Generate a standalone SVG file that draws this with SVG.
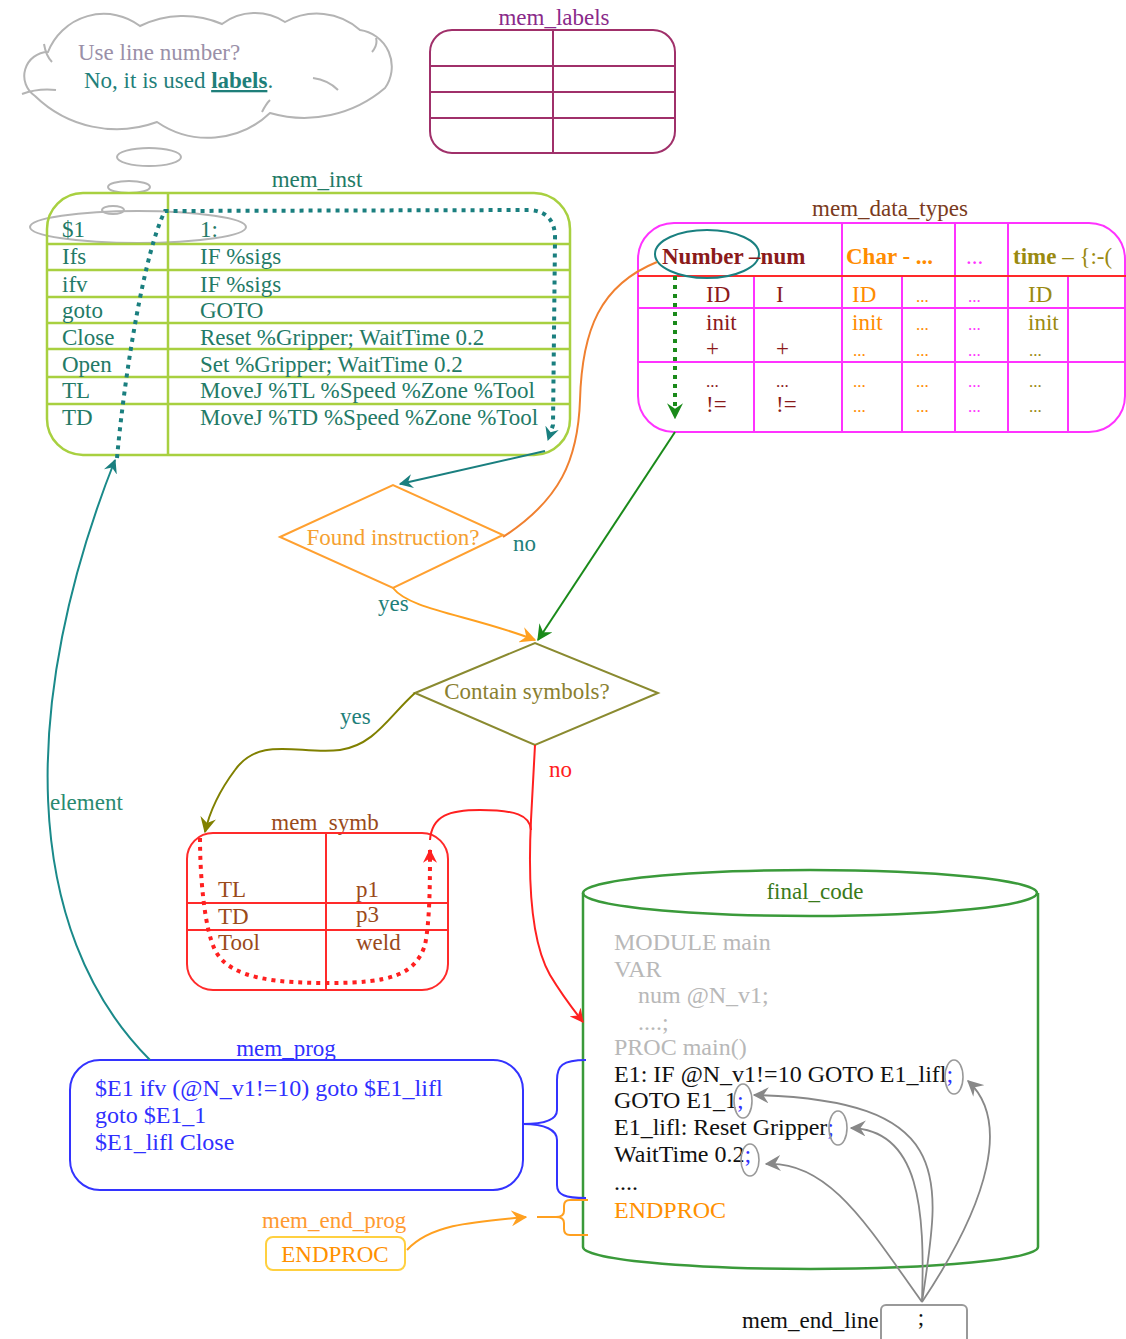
<svg xmlns="http://www.w3.org/2000/svg" width="1126" height="1339" viewBox="0 0 1126 1339">
<defs>
<style>
text{font-family:"Liberation Serif","Times New Roman",serif;font-size:23px}
.ln{fill:none;stroke-width:2}
.teal{fill:#1f7f7a}
.inst{fill:#237a66}
.dr{fill:#8b1a1a}
.or{fill:#ff8c00}
.mg{fill:#ff33ff}
.ol{fill:#9a8a10}
.dots{font-size:17px}
.gray{fill:#b8b8b8}
.br{fill:#9a4a1a}
.fc text,text.fc{font-size:24px}
</style>
<marker id="aTeal" viewBox="0 0 12 12" refX="11" refY="6" markerWidth="14" markerHeight="14" markerUnits="userSpaceOnUse" orient="auto"><path d="M0,0 L12,6 L0,12 L4,6 Z" fill="#1a7f7f"/></marker>
<marker id="aOr" viewBox="0 0 12 12" refX="11" refY="6" markerWidth="16" markerHeight="16" markerUnits="userSpaceOnUse" orient="auto"><path d="M0,0 L12,6 L0,12 L4,6 Z" fill="#ffa020"/></marker>
<marker id="aGr" viewBox="0 0 12 12" refX="11" refY="6" markerWidth="16" markerHeight="16" markerUnits="userSpaceOnUse" orient="auto"><path d="M0,0 L12,6 L0,12 L4,6 Z" fill="#1a8a1a"/></marker>
<marker id="aOl" viewBox="0 0 12 12" refX="11" refY="6" markerWidth="16" markerHeight="16" markerUnits="userSpaceOnUse" orient="auto"><path d="M0,0 L12,6 L0,12 L4,6 Z" fill="#808000"/></marker>
<marker id="aRd" viewBox="0 0 12 12" refX="11" refY="6" markerWidth="14" markerHeight="14" markerUnits="userSpaceOnUse" orient="auto"><path d="M0,0 L12,6 L0,12 L4,6 Z" fill="#ff2020"/></marker>
<marker id="aGy" viewBox="0 0 12 12" refX="11" refY="6" markerWidth="16" markerHeight="16" markerUnits="userSpaceOnUse" orient="auto"><path d="M0,0 L12,6 L0,12 L4,6 Z" fill="#888"/></marker>
</defs>
<rect width="1126" height="1339" fill="#fff"/>

<g id="cloud">
<path class="ln" stroke="#b4b4b4" d="M48,52 A60 60 0 0 1 140,26 A98 98 0 0 1 222,24 A55 55 0 0 1 285,22 A65 65 0 0 1 360,30 A37 37 0 0 1 385,88 A124 124 0 0 1 270,113 A90 90 0 0 1 157,122 A117 117 0 0 1 35,96 A24 24 0 0 1 48,52 Z"/>
<path class="ln" stroke="#b4b4b4" d="M44,44 Q46,56 52,62 M313,78 Q328,80 338,90 M22,94 Q38,88 56,90 M372,52 Q378,45 376,38 M262,112 Q266,104 270,100"/>
<ellipse cx="149" cy="157" rx="32" ry="9" class="ln" stroke="#b4b4b4"/>
<ellipse cx="129" cy="187" rx="21" ry="6" class="ln" stroke="#b4b4b4"/>
<ellipse cx="113" cy="210" rx="11" ry="4" class="ln" stroke="#b4b4b4"/>
<ellipse cx="138" cy="227" rx="108" ry="16" class="ln" stroke="#b4b4b4"/>
<text x="78" y="60" fill="#9a90a8">Use line number?</text>
<text x="84" y="88" class="teal">No, it is used <tspan font-weight="bold" text-decoration="underline">labels</tspan>.</text>
</g>

<g id="mem_labels">
<text x="554" y="25" text-anchor="middle" fill="#8a2a8a">mem_labels</text>
<rect x="430" y="30" width="245" height="123" rx="22" class="ln" stroke="#a0306a"/>
<path class="ln" stroke="#a0306a" d="M553,30 V153 M430,66 H675 M430,92 H675 M430,118 H675"/>
</g>

<g id="mem_inst">
<text x="317" y="187" text-anchor="middle" class="inst">mem_inst</text>
<rect x="47" y="193" width="523" height="262" rx="36" fill="none" stroke="#a8d040" stroke-width="2.5"/>
<path fill="none" stroke="#a8d040" stroke-width="2.5" d="M168,193 V455 M47,244 H570 M47,270 H570 M47,297 H570 M47,323 H570 M47,349 H570 M47,377 H570 M47,404 H570"/>
<g class="inst">
<text x="62" y="237">$1</text><text x="200" y="237">1:</text>
<text x="62" y="264">Ifs</text><text x="200" y="264">IF %sigs</text>
<text x="62" y="292">ifv</text><text x="200" y="292">IF %sigs</text>
<text x="62" y="318">goto</text><text x="200" y="318">GOTO</text>
<text x="62" y="345">Close</text><text x="200" y="345">Reset %Gripper; WaitTime 0.2</text>
<text x="62" y="372">Open</text><text x="200" y="372">Set %Gripper; WaitTime 0.2</text>
<text x="62" y="398">TL</text><text x="200" y="398">MoveJ %TL %Speed %Zone %Tool</text>
<text x="62" y="425">TD</text><text x="200" y="425">MoveJ %TD %Speed %Zone %Tool</text>
</g>
</g>

<g id="mem_data_types">
<text x="890" y="216" text-anchor="middle" fill="#7a3a20">mem_data_types</text>
<rect x="638" y="223" width="487" height="209" rx="36" fill="none" stroke="#ff33ff" stroke-width="2"/>
<path fill="none" stroke="#ff33ff" stroke-width="2" d="M842,223 V432 M955,223 V432 M1008,223 V432 M754,276 V432 M902,276 V432 M1068,276 V432 M638,308 H1126 M638,362 H1126"/>
<path d="M638,276 H1126" stroke="#ff2a2a" stroke-width="2"/>
<ellipse cx="707" cy="254" rx="52" ry="24" fill="none" stroke="#1a8080" stroke-width="2"/>
<text x="662" y="264" font-weight="bold" class="dr">Number –num</text>
<text x="846" y="264" font-weight="bold" class="or">Char - ...</text>
<text x="966" y="264" class="mg">...</text>
<text x="1013" y="264" class="ol"><tspan font-weight="bold">time</tspan> – {:-(</text>
<g class="dr"><text x="706" y="302">ID</text><text x="776" y="302">I</text><text x="706" y="330">init</text><text x="706" y="356">+</text><text x="776" y="356">+</text><text x="706" y="387" class="dots">...</text><text x="776" y="387" class="dots">...</text><text x="706" y="412">!=</text><text x="776" y="412">!=</text></g>
<g class="or"><text x="852" y="302">ID</text><text x="852" y="330">init</text><text x="853" y="356" class="dots">...</text><text x="853" y="387" class="dots">...</text><text x="853" y="412" class="dots">...</text><text x="916" y="302" class="dots">...</text><text x="916" y="330" class="dots">...</text><text x="916" y="356" class="dots">...</text><text x="916" y="387" class="dots">...</text><text x="916" y="412" class="dots">...</text></g>
<g class="mg"><text x="968" y="302" class="dots">...</text><text x="968" y="330" class="dots">...</text><text x="968" y="356" class="dots">...</text><text x="968" y="387" class="dots">...</text><text x="968" y="412" class="dots">...</text></g>
<g class="ol"><text x="1028" y="302">ID</text><text x="1028" y="330">init</text><text x="1029" y="356" class="dots">...</text><text x="1029" y="387" class="dots">...</text><text x="1029" y="412" class="dots">...</text></g>
</g>

<g id="found_instruction">
<path d="M280,537 L393,485 L503,535 L393,588 Z" fill="none" stroke="#ffa030" stroke-width="2"/>
<text x="393" y="545" text-anchor="middle" fill="#f5a030">Found instruction?</text>
</g>

<g id="contain_symbols">
<path d="M415,693 L535,643 L658,693 L535,745 Z" fill="none" stroke="#8a8a30" stroke-width="2"/>
<text x="527" y="699" text-anchor="middle" fill="#8a8030">Contain symbols?</text>
</g>

<g id="mem_symb">
<text x="325" y="830" text-anchor="middle" class="br">mem_symb</text>
<rect x="187" y="833" width="261" height="157" rx="26" fill="none" stroke="#ff2a2a" stroke-width="2"/>
<path fill="none" stroke="#ff2a2a" stroke-width="2" d="M326,833 V990 M187,903 H448 M187,930 H448"/>
<g class="br"><text x="218" y="897">TL</text><text x="218" y="924">TD</text><text x="218" y="950">Tool</text><text x="356" y="897">p1</text><text x="356" y="922">p3</text><text x="356" y="950">weld</text></g>
</g>

<g id="final_code">
<path d="M583,893 V1247 A227 22 0 0 0 1038,1247 V893" fill="none" stroke="#3a9a3a" stroke-width="2.5"/>
<ellipse cx="810" cy="893" rx="227" ry="23" fill="none" stroke="#3a9a3a" stroke-width="2.5"/>
<text x="815" y="899" text-anchor="middle" fill="#3a7a1a">final_code</text>
<g class="gray fc"><text x="614" y="950">MODULE main</text><text x="614" y="977">VAR</text><text x="638" y="1003">num @N_v1;</text><text x="638" y="1030">....;</text><text x="614" y="1055">PROC main()</text></g>
<g fill="#111" class="fc"><text x="614" y="1082">E1: IF @N_v1!=10 GOTO E1_lifl<tspan fill="#3030ff">;</tspan></text><text x="614" y="1108">GOTO E1_1<tspan fill="#3030ff">;</tspan></text><text x="614" y="1135">E1_lifl: Reset Gripper<tspan fill="#3030ff">;</tspan></text><text x="614" y="1162">WaitTime 0.2<tspan fill="#3030ff">;</tspan></text><text x="614" y="1190">....</text></g>
<text x="614" y="1218" fill="#ff9000" class="fc">ENDPROC</text>
<g fill="none" stroke="#999" stroke-width="1.6"><ellipse cx="954" cy="1077" rx="9" ry="17"/><ellipse cx="743" cy="1101" rx="9" ry="17"/><ellipse cx="838" cy="1128" rx="9" ry="17"/><ellipse cx="750" cy="1160" rx="9" ry="16"/></g>
</g>

<g id="mem_prog">
<text x="286" y="1056" text-anchor="middle" fill="#3030ff">mem_prog</text>
<rect x="70" y="1060" width="453" height="130" rx="30" fill="none" stroke="#3333ff" stroke-width="2"/>
<g fill="#3030ff" class="fc"><text x="95" y="1096">$E1 ifv (@N_v1!=10) goto $E1_lifl</text><text x="95" y="1123">goto $E1_1</text><text x="95" y="1150">$E1_lifl Close</text></g>
</g>

<g id="mem_end_prog">
<text x="262" y="1228" fill="#ff9a30">mem_end_prog</text>
<rect x="266" y="1237" width="139" height="33" rx="7" fill="none" stroke="#ffd040" stroke-width="2"/>
<text x="335" y="1262" text-anchor="middle" fill="#ff9000">ENDPROC</text>
</g>

<g id="mem_end_line">
<text x="742" y="1328" fill="#111">mem_end_line</text>
<rect x="881" y="1305" width="86" height="40" rx="5" fill="#fff" stroke="#999" stroke-width="2"/>
<text x="921" y="1325" text-anchor="middle" fill="#111" font-size="18">;</text>
</g>

<g id="connectors">
<path fill="none" stroke="#1a7f7f" stroke-width="4" stroke-dasharray="4 5" d="M117,458 C125,370 145,250 165,211 L530,210 Q556,212 555,240 L553,425 L548,440" marker-end="url(#aTeal)"/>
<path fill="none" stroke="#1a7f7f" stroke-width="2" d="M545,451 L400,484" marker-end="url(#aTeal)"/>
<path fill="none" stroke="#1a8a8a" stroke-width="2" d="M150,1060 C20,930 20,700 115,460" marker-end="url(#aTeal)"/>
<text x="50" y="810" fill="#2a8a70">element</text>
<path fill="none" stroke="#f08030" stroke-width="2" d="M503,537 C560,500 578,460 580,400 C582,330 600,285 657,262"/>
<text x="513" y="551" class="teal">no</text>
<path fill="none" stroke="#ffa020" stroke-width="2" d="M393,588 C410,610 470,615 535,640" marker-end="url(#aOr)"/>
<text x="378" y="611" class="teal">yes</text>
<path fill="none" stroke="#1a8a1a" stroke-width="4" stroke-dasharray="4 5" d="M675,276 L675,418" marker-end="url(#aGr)"/>
<path fill="none" stroke="#1a8a1a" stroke-width="2" d="M675,432 L538,640" marker-end="url(#aGr)"/>
<path fill="none" stroke="#808000" stroke-width="2" d="M415,693 C390,715 375,745 340,750 C300,755 260,735 235,770 C220,790 210,810 205,832" marker-end="url(#aOl)"/>
<text x="340" y="724" class="teal">yes</text>
<path fill="none" stroke="#ff2020" stroke-width="2" d="M535,745 L531,820 C528,880 530,940 550,975 C562,995 572,1008 583,1022" marker-end="url(#aRd)"/>
<text x="549" y="777" fill="#ff2020">no</text>
<path fill="none" stroke="#ff2020" stroke-width="2" d="M430,840 C432,815 450,810 480,810 C515,810 530,815 531,830"/>
<path fill="none" stroke="#ff2020" stroke-width="4" stroke-dasharray="4 5" d="M200,838 C200,880 205,930 215,950 C230,980 280,983 330,983 C390,983 415,975 425,945 C430,920 430,880 430,850" marker-end="url(#aRd)"/>
<path fill="none" stroke="#3333ff" stroke-width="2" d="M586,1060 C562,1060 557,1066 557,1080 L557,1110 C557,1120 545,1124 523,1124 C545,1124 557,1130 557,1140 L557,1185 C557,1195 565,1198 586,1198"/>
<path fill="none" stroke="#ffa020" stroke-width="2" d="M407,1250 C430,1225 470,1222 526,1217" marker-end="url(#aOr)"/>
<path fill="none" stroke="#ffa020" stroke-width="2" d="M537,1217 L556,1217 M588,1200 L570,1200 Q564,1200 564,1206 L564,1211 Q564,1217 556,1217 Q564,1217 564,1223 L564,1229 Q564,1235 570,1235 L588,1235"/>
<g fill="none" stroke="#888" stroke-width="1.8">
<path d="M922,1302 C990,1200 1010,1120 968,1081" marker-end="url(#aGy)"/>
<path d="M922,1302 C940,1180 960,1100 754,1095" marker-end="url(#aGy)"/>
<path d="M922,1302 C925,1210 920,1130 851,1128" marker-end="url(#aGy)"/>
<path d="M922,1302 C870,1230 830,1160 766,1164" marker-end="url(#aGy)"/>
</g>
</g>
</svg>
